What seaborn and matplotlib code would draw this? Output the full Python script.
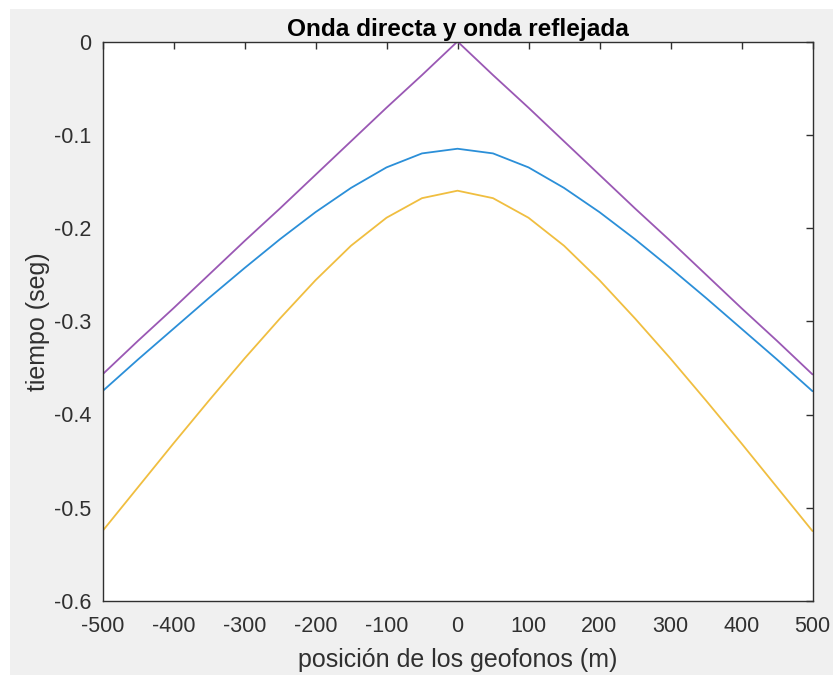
import numpy as np
import pandas as pd
import matplotlib
matplotlib.use("Agg")
import matplotlib.pyplot as plt
import seaborn as sns
from matplotlib.patches import Rectangle

# Geophone positions (m)
posicion = [-500, -450, -400, -350, -300, -250, -200, -150, -100, -50, 0,
            50, 100, 150, 200, 250, 300, 350, 400, 450, 500]

# Reflected wave (blue)
onda_reflejada_1 = [-0.375, -0.341, -0.308, -0.275, -0.243, -0.212, -0.183, -0.157, -0.135, -0.120, -0.115,
                    -0.120, -0.135, -0.157, -0.183, -0.212, -0.243, -0.275, -0.308, -0.341, -0.375]
# Reflected wave (yellow)
onda_reflejada_2 = [-0.525, -0.478, -0.431, -0.385, -0.340, -0.297, -0.256, -0.219, -0.189, -0.168, -0.160,
                    -0.168, -0.189, -0.219, -0.256, -0.297, -0.340, -0.385, -0.431, -0.478, -0.525]
# Direct wave (purple)
onda_directa = [-0.357, -0.321, -0.286, -0.250, -0.214, -0.179, -0.143, -0.107, -0.071, -0.036, 0.0,
                -0.036, -0.071, -0.107, -0.143, -0.179, -0.214, -0.250, -0.286, -0.321, -0.357]

x_ticks = [-500, -400, -300, -200, -100, 0, 100, 200, 300, 400, 500]
y_ticks = [-0.6, -0.5, -0.4, -0.3, -0.2, -0.1, 0]
y_ticklabels = ["-0.6", "-0.5", "-0.4", "-0.3", "-0.2", "-0.1", "0"]

sns.set_style("white")
plt.rcParams['font.family'] = ['Liberation Sans', 'DejaVu Sans']

W, H = 833, 675
fig = plt.figure(figsize=(W / 100, H / 100), dpi=100, facecolor="white")
fig.patches.append(Rectangle((10 / W, 0), 1 - 10 / W, 1 - 9 / H, transform=fig.transFigure,
                             facecolor="#F0F0F0", edgecolor="none", zorder=-10))

left, right, top, bottom = 102.5, 812.5, 41.5, 601
ax = fig.add_axes([left / W, 1 - bottom / H, (right - left) / W, (bottom - top) / H])
ax.set_facecolor("white")

df = pd.DataFrame({"x": posicion, "r1": onda_reflejada_1, "r2": onda_reflejada_2, "d": onda_directa})
lw = 1.3
sns.lineplot(data=df, x="x", y="r1", ax=ax, color="#2B8FD8", lw=lw, sort=False)
sns.lineplot(data=df, x="x", y="r2", ax=ax, color="#F0BE40", lw=lw, sort=False)
sns.lineplot(data=df, x="x", y="d", ax=ax, color="#9A58B4", lw=lw, sort=False)

ax.set_xlim(-500, 500)
ax.set_ylim(-0.6, 0)
ax.set_xticks(x_ticks)
ax.set_xticklabels([str(v) for v in x_ticks])
ax.set_yticks(y_ticks)
ax.set_yticklabels(y_ticklabels)

txt = "#303030"
for s in ax.spines.values():
    s.set_color("#303030")
    s.set_linewidth(1.0)
ax.tick_params(direction="in", length=5, width=1, color="#303030", top=True, right=True,
               labelsize=15.5, labelcolor=txt)
ax.tick_params(axis="x", pad=11)
ax.tick_params(axis="y", pad=8)

ax.set_xlabel("posición de los geofonos (m)", fontsize=18, color=txt, labelpad=8)
ax.set_ylabel("tiempo (seg)", fontsize=18, color=txt, labelpad=3)
ax.set_title("Onda directa y onda reflejada", fontsize=17.6, fontweight="bold", color="black", pad=4)

fig.savefig("out.png", dpi=100, facecolor=fig.get_facecolor())
